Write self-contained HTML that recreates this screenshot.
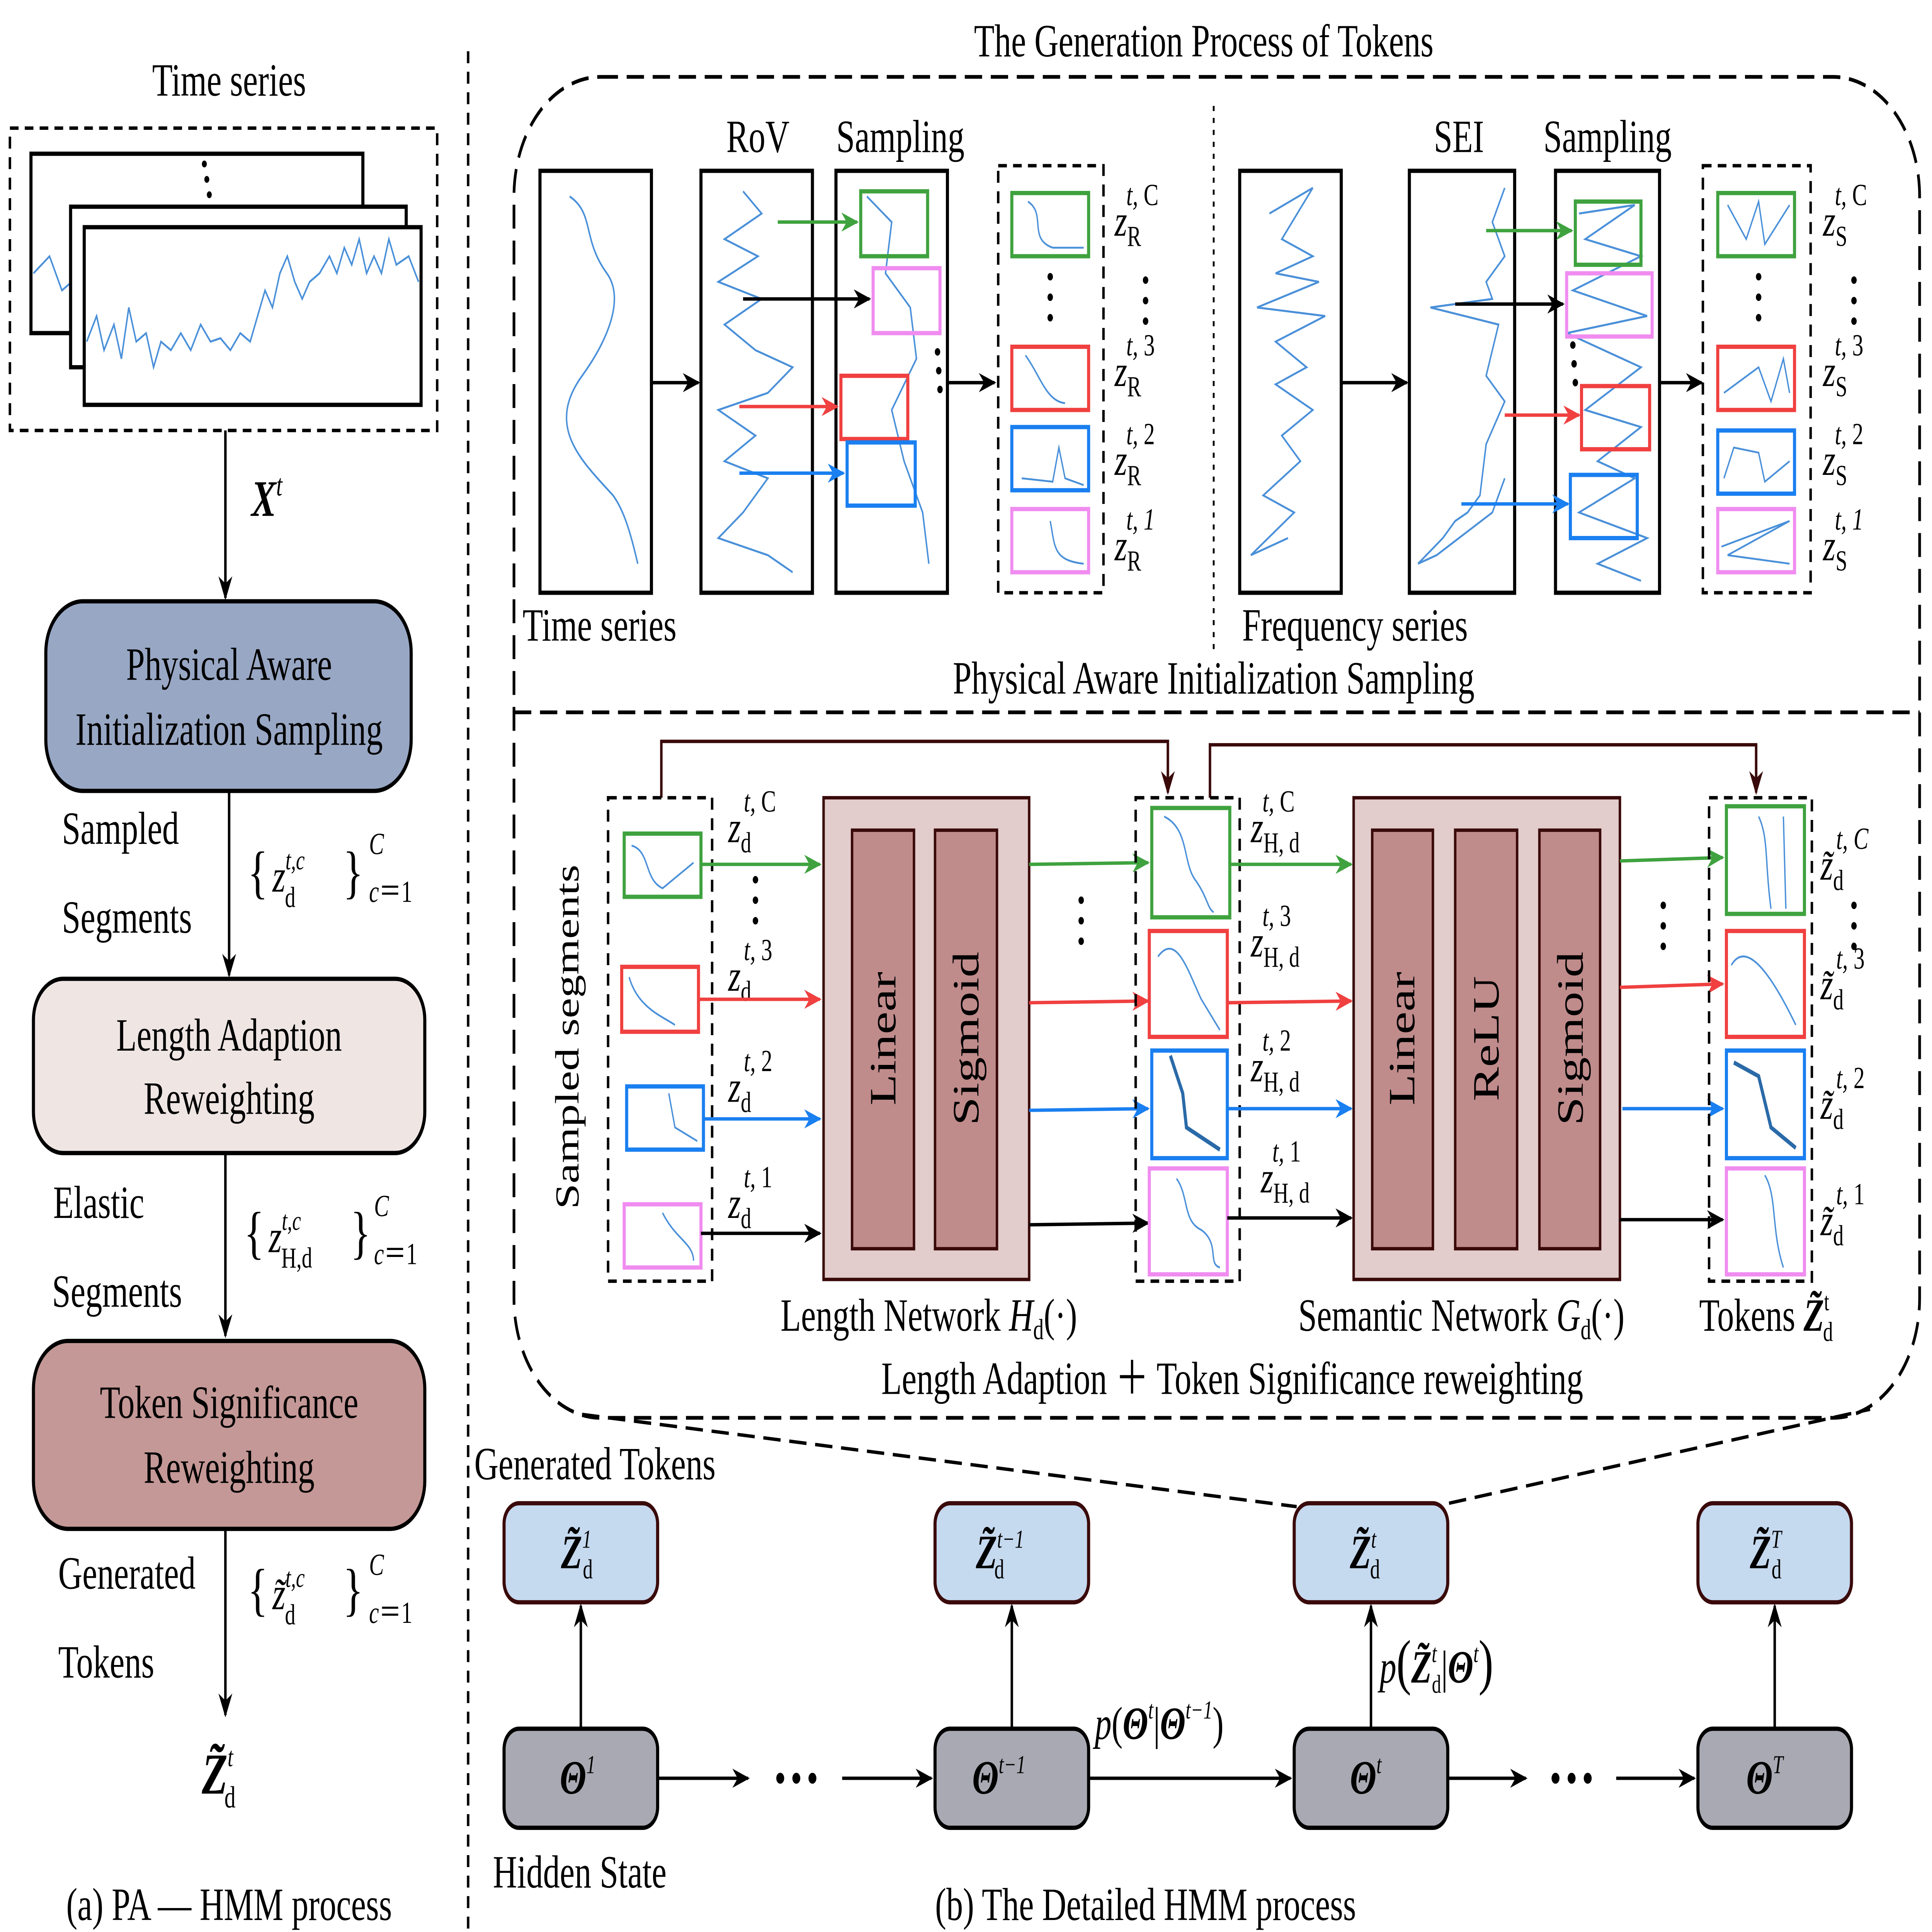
<!DOCTYPE html>
<html><head><meta charset="utf-8"><style>
html,body{margin:0;padding:0;background:#fff;width:100%;height:100%;overflow:hidden}
svg{display:block;width:100vw;height:100vh;overflow:hidden}
text{font-family:"Liberation Serif",serif;fill:#000}
</style></head><body>
<svg viewBox="0 0 1560 1131" preserveAspectRatio="none" xmlns="http://www.w3.org/2000/svg">
<defs>
<marker id="a" viewBox="0 0 10 10" refX="9" refY="5" markerWidth="14" markerHeight="14" orient="auto" markerUnits="userSpaceOnUse"><path d="M0,1 L10,5 L0,9 L3,5 z" fill="#000"/></marker>
<marker id="ag" viewBox="0 0 10 10" refX="9" refY="5" markerWidth="14" markerHeight="14" orient="auto" markerUnits="userSpaceOnUse"><path d="M0,1 L10,5 L0,9 L3,5 z" fill="#3fa23f"/></marker>
<marker id="ar" viewBox="0 0 10 10" refX="9" refY="5" markerWidth="14" markerHeight="14" orient="auto" markerUnits="userSpaceOnUse"><path d="M0,1 L10,5 L0,9 L3,5 z" fill="#f04040"/></marker>
<marker id="ab" viewBox="0 0 10 10" refX="9" refY="5" markerWidth="14" markerHeight="14" orient="auto" markerUnits="userSpaceOnUse"><path d="M0,1 L10,5 L0,9 L3,5 z" fill="#1a7ff0"/></marker>
<marker id="ad" viewBox="0 0 10 10" refX="9" refY="5" markerWidth="14" markerHeight="14" orient="auto" markerUnits="userSpaceOnUse"><path d="M0,1 L10,5 L0,9 L3,5 z" fill="#3a0a0a"/></marker>
</defs>
<g font-size="27">
<text x="185" y="56" text-anchor="middle">Time series</text>
<rect x="8" y="75" width="345" height="177" fill="none" stroke="#000" stroke-width="2" stroke-dasharray="7,5"/>
<rect x="25" y="90" width="268" height="105" fill="#fff" stroke="#000" stroke-width="2.5"/>
<polyline points="27,160 40,150 50,170 58,165" fill="none" stroke="#4a90d9" stroke-width="1.2"/>
<rect x="57" y="121" width="271" height="94" fill="#fff" stroke="#000" stroke-width="2.5"/>
<rect x="68" y="133" width="272" height="104" fill="#fff" stroke="#000" stroke-width="2.5"/>
<polyline points="70,200 78,185 84,205 92,190 98,210 104,180 110,200 118,195 124,215 130,200 138,205 146,195 154,205 162,190 170,200 178,198 186,205 194,195 202,200 208,185 214,170 220,180 226,160 232,150 238,165 244,175 250,165 258,160 266,150 272,160 278,145 284,155 290,140 296,160 302,150 308,160 314,140 320,155 330,150 338,165" fill="none" stroke="#4a90d9" stroke-width="1.2"/>
<circle cx="165" cy="96" r="2" /><circle cx="167" cy="105" r="2"/><circle cx="169" cy="114" r="2"/>
<line x1="182" y1="252" x2="182" y2="350" stroke="#000" stroke-width="2" marker-end="url(#a)"/>
<text x="203" y="302" font-weight="bold" font-style="italic" font-size="30">X<tspan dy="-12" font-size="18" font-weight="normal">t</tspan></text>

<rect x="37" y="352" width="295" height="111" rx="30" fill="#98a7c4" stroke="#000" stroke-width="2.5"/>
<text x="185" y="398" text-anchor="middle">Physical Aware</text>
<text x="185" y="436" text-anchor="middle">Initialization Sampling</text>
<text x="50" y="494">Sampled</text>
<text x="50" y="546">Segments</text>
<line x1="185" y1="463" x2="185" y2="571" stroke="#000" stroke-width="2" marker-end="url(#a)"/>
<text x="200" y="522" font-size="34">{</text><text x="220" y="522" font-style="italic">z<tspan font-size="16" dy="-13">t,c</tspan><tspan font-size="17" font-style="normal" dx="-16" dy="22">d</tspan></text><text x="277" y="522" font-size="34">}</text>
<text x="298" y="500" font-size="18" font-style="italic">C</text><text x="298" y="528" font-size="18"><tspan font-style="italic">c</tspan>＝1</text>

<rect x="27" y="573" width="316" height="102" rx="24" fill="#efe6e4" stroke="#000" stroke-width="2.5"/>
<text x="185" y="615" text-anchor="middle">Length Adaption</text>
<text x="185" y="652" text-anchor="middle">Reweighting</text>
<text x="43" y="713">Elastic</text>
<text x="42" y="765">Segments</text>
<line x1="182" y1="675" x2="182" y2="782" stroke="#000" stroke-width="2" marker-end="url(#a)"/>
<text x="197" y="733" font-size="34">{</text><text x="217" y="733" font-style="italic">z<tspan font-size="16" dy="-13">t,c</tspan><tspan font-size="17" font-style="normal" dx="-16" dy="22">H,d</tspan></text><text x="283" y="733" font-size="34">}</text>
<text x="302" y="712" font-size="18" font-style="italic">C</text><text x="302" y="740" font-size="18"><tspan font-style="italic">c</tspan>＝1</text>

<rect x="27" y="785" width="316" height="110" rx="28" fill="#c49896" stroke="#000" stroke-width="2.5"/>
<text x="185" y="830" text-anchor="middle">Token Significance</text>
<text x="185" y="868" text-anchor="middle">Reweighting</text>
<text x="47" y="930">Generated</text>
<text x="47" y="982">Tokens</text>
<line x1="182" y1="895" x2="182" y2="1004" stroke="#000" stroke-width="2" marker-end="url(#a)"/>
<text x="200" y="942" font-size="34">{</text><text x="220" y="942" font-style="italic">z̃<tspan font-size="16" dy="-13">t,c</tspan><tspan font-size="17" font-style="normal" dx="-16" dy="22">d</tspan></text><text x="277" y="942" font-size="34">}</text>
<text x="298" y="922" font-size="18" font-style="italic">C</text><text x="298" y="950" font-size="18"><tspan font-style="italic">c</tspan>＝1</text>
<text x="163" y="1050" font-size="34" font-weight="bold" font-style="italic">Z̃<tspan font-size="16" font-weight="normal" dy="-16">t</tspan><tspan font-size="18" font-weight="normal" font-style="normal" dx="-7" dy="24">d</tspan></text>
<text x="185" y="1124" text-anchor="middle">(a)  PA — HMM process</text>

<line x1="378" y1="30" x2="378" y2="1131" stroke="#000" stroke-width="2" stroke-dasharray="7,5"/>

<text x="972" y="33" text-anchor="middle">The Generation Process of Tokens</text>
<rect x="415" y="45" width="1135" height="785" rx="70" fill="none" stroke="#000" stroke-width="2.2" stroke-dasharray="14,7"/>
<line x1="415" y1="417" x2="1550" y2="417" stroke="#000" stroke-width="2.2" stroke-dasharray="14,7"/>
<line x1="980" y1="62" x2="980" y2="380" stroke="#000" stroke-width="1.5" stroke-dasharray="3,4"/>

<text x="612" y="89" text-anchor="middle">RoV</text><text x="727" y="89" text-anchor="middle">Sampling</text>
<rect x="436" y="100" width="90" height="247" fill="#fff" stroke="#000" stroke-width="2.5"/>
<path d="M460,115 C480,125 470,140 490,160 C505,175 490,200 470,220 C440,250 470,270 495,290 C505,300 510,315 515,330" fill="none" stroke="#4a90d9" stroke-width="1.2"/>
<line x1="526" y1="224" x2="564" y2="224" stroke="#000" stroke-width="2" marker-end="url(#a)"/>
<rect x="566" y="100" width="90" height="247" fill="#fff" stroke="#000" stroke-width="2.5"/>
<polyline points="600,112 615,125 585,140 612,150 580,165 615,175 585,190 610,205 640,215 620,230 580,240 610,255 585,270 620,280 600,300 580,315 620,325 640,335" fill="none" stroke="#4a90d9" stroke-width="1.2"/>
<rect x="675" y="100" width="90" height="247" fill="#fff" stroke="#000" stroke-width="2.5"/>
<polyline points="700,115 720,130 715,160 735,180 740,210 720,240 730,270 745,300 750,330" fill="none" stroke="#4a90d9" stroke-width="1.2"/>
<rect x="695" y="112" width="54" height="38" fill="none" stroke="#3fa23f" stroke-width="2.5"/>
<rect x="705" y="157" width="54" height="38" fill="none" stroke="#f08cf0" stroke-width="2.5"/>
<rect x="679" y="220" width="54" height="37" fill="none" stroke="#f04040" stroke-width="2.5"/>
<rect x="684" y="259" width="55" height="37" fill="none" stroke="#1a7ff0" stroke-width="2.5"/>
<line x1="628" y1="130" x2="692" y2="130" stroke="#3fa23f" stroke-width="2" marker-end="url(#ag)"/>
<line x1="600" y1="175" x2="702" y2="175" stroke="#000" stroke-width="2" marker-end="url(#a)"/>
<line x1="597" y1="238" x2="676" y2="238" stroke="#f04040" stroke-width="2" marker-end="url(#ar)"/>
<line x1="597" y1="277" x2="681" y2="277" stroke="#1a7ff0" stroke-width="2" marker-end="url(#ab)"/>
<circle cx="757" cy="206" r="2.2"/><circle cx="758" cy="217" r="2.2"/><circle cx="759" cy="228" r="2.2"/>
<line x1="765" y1="224" x2="803" y2="224" stroke="#000" stroke-width="2" marker-end="url(#a)"/>
<rect x="806" y="97" width="85" height="250" fill="none" stroke="#000" stroke-width="2" stroke-dasharray="7,5"/>
<rect x="817" y="113" width="62" height="37" fill="none" stroke="#3fa23f" stroke-width="2.5"/>
<path d="M830,118 C845,125 830,140 850,145 L875,145" fill="none" stroke="#4a90d9" stroke-width="1.1"/>
<rect x="817" y="203" width="62" height="37" fill="none" stroke="#f04040" stroke-width="2.5"/>
<path d="M828,208 C840,220 845,235 860,236" fill="none" stroke="#4a90d9" stroke-width="1.1"/>
<rect x="817" y="250" width="62" height="37" fill="none" stroke="#1a7ff0" stroke-width="2.5"/>
<path d="M825,280 L850,282 L855,262 L860,280 L875,284" fill="none" stroke="#4a90d9" stroke-width="1.1"/>
<rect x="817" y="298" width="62" height="37" fill="none" stroke="#f08cf0" stroke-width="2.5"/>
<path d="M848,305 C852,320 850,328 875,330" fill="none" stroke="#4a90d9" stroke-width="1.1"/>
<circle cx="848" cy="162" r="2.2"/><circle cx="848" cy="174" r="2.2"/><circle cx="848" cy="186" r="2.2"/>
<g font-size="26" font-style="italic">
<text x="900" y="138">z<tspan font-size="17" font-style="normal" dy="6">R</tspan><tspan font-size="18" dx="-12" dy="-24">t, </tspan><tspan font-size="18" font-style="normal">C</tspan></text>
<text x="900" y="226">z<tspan font-size="17" font-style="normal" dy="6">R</tspan><tspan font-size="18" dx="-12" dy="-24">t, </tspan><tspan font-size="18" font-style="normal">3</tspan></text>
<text x="900" y="278">z<tspan font-size="17" font-style="normal" dy="6">R</tspan><tspan font-size="18" dx="-12" dy="-24">t, </tspan><tspan font-size="18" font-style="normal">2</tspan></text>
<text x="900" y="328">z<tspan font-size="17" font-style="normal" dy="6">R</tspan><tspan font-size="18" dx="-12" dy="-24">t, 1</tspan></text>
</g>
<circle cx="925" cy="164" r="2.2"/><circle cx="925" cy="176" r="2.2"/><circle cx="925" cy="188" r="2.2"/>
<text x="422" y="375">Time series</text>

<text x="1178" y="89" text-anchor="middle">SEI</text><text x="1298" y="89" text-anchor="middle">Sampling</text>
<rect x="1001" y="100" width="82" height="247" fill="#fff" stroke="#000" stroke-width="2.5"/>
<polyline points="1025,125 1060,110 1035,140 1060,150 1030,160 1065,165 1015,180 1070,185 1030,200 1055,215 1030,225 1060,240 1035,255 1050,270 1020,290 1045,300 1010,325 1040,315" fill="none" stroke="#4a90d9" stroke-width="1.2"/>
<line x1="1083" y1="224" x2="1136" y2="224" stroke="#000" stroke-width="2" marker-end="url(#a)"/>
<rect x="1138" y="100" width="85" height="247" fill="#fff" stroke="#000" stroke-width="2.5"/>
<polyline points="1215,110 1205,130 1215,150 1200,165 1205,175 1155,180 1210,190 1200,220 1215,235 1200,260 1195,290 1185,300 1175,305 1165,315 1145,330 1160,325 1205,300 1215,280" fill="none" stroke="#4a90d9" stroke-width="1.2"/>
<rect x="1256" y="100" width="84" height="247" fill="#fff" stroke="#000" stroke-width="2.5"/>
<polyline points="1275,125 1320,120 1280,140 1325,150 1270,170 1330,185 1265,195 1325,215 1280,240 1325,250 1290,270 1320,280 1275,300 1330,315 1290,330 1325,340" fill="none" stroke="#4a90d9" stroke-width="1.2"/>
<rect x="1272" y="118" width="53" height="37" fill="none" stroke="#3fa23f" stroke-width="2.5"/>
<rect x="1265" y="160" width="69" height="37" fill="none" stroke="#f08cf0" stroke-width="2.5"/>
<rect x="1277" y="226" width="55" height="37" fill="none" stroke="#f04040" stroke-width="2.5"/>
<rect x="1268" y="278" width="54" height="37" fill="none" stroke="#1a7ff0" stroke-width="2.5"/>
<line x1="1200" y1="135" x2="1269" y2="135" stroke="#3fa23f" stroke-width="2" marker-end="url(#ag)"/>
<line x1="1175" y1="178" x2="1262" y2="178" stroke="#000" stroke-width="2" marker-end="url(#a)"/>
<line x1="1215" y1="243" x2="1275" y2="243" stroke="#f04040" stroke-width="2" marker-end="url(#ar)"/>
<line x1="1180" y1="295" x2="1266" y2="295" stroke="#1a7ff0" stroke-width="2" marker-end="url(#ab)"/>
<circle cx="1270" cy="202" r="2.2"/><circle cx="1271" cy="213" r="2.2"/><circle cx="1272" cy="224" r="2.2"/>
<line x1="1340" y1="224" x2="1374" y2="224" stroke="#000" stroke-width="2" marker-end="url(#a)"/>
<rect x="1375" y="97" width="87" height="250" fill="none" stroke="#000" stroke-width="2" stroke-dasharray="7,5"/>
<rect x="1387" y="113" width="62" height="37" fill="none" stroke="#3fa23f" stroke-width="2.5"/>
<polyline points="1395,120 1410,140 1420,118 1425,143 1445,120" fill="none" stroke="#4a90d9" stroke-width="1.1"/>
<rect x="1387" y="203" width="62" height="37" fill="none" stroke="#f04040" stroke-width="2.5"/>
<polyline points="1392,230 1420,215 1430,235 1440,210 1445,230" fill="none" stroke="#4a90d9" stroke-width="1.1"/>
<rect x="1387" y="252" width="62" height="37" fill="none" stroke="#1a7ff0" stroke-width="2.5"/>
<polyline points="1392,280 1400,262 1420,265 1425,282 1445,270" fill="none" stroke="#4a90d9" stroke-width="1.1"/>
<rect x="1387" y="298" width="62" height="37" fill="none" stroke="#f08cf0" stroke-width="2.5"/>
<polyline points="1390,320 1445,305 1395,325 1445,330" fill="none" stroke="#4a90d9" stroke-width="1.1"/>
<circle cx="1420" cy="162" r="2.2"/><circle cx="1420" cy="174" r="2.2"/><circle cx="1420" cy="186" r="2.2"/>
<circle cx="1497" cy="164" r="2.2"/><circle cx="1497" cy="176" r="2.2"/><circle cx="1497" cy="188" r="2.2"/>
<g font-size="26" font-style="italic">
<text x="1472" y="138">z<tspan font-size="17" font-style="normal" dy="6">S</tspan><tspan font-size="18" dx="-10" dy="-24">t, </tspan><tspan font-size="18" font-style="normal">C</tspan></text>
<text x="1472" y="226">z<tspan font-size="17" font-style="normal" dy="6">S</tspan><tspan font-size="18" dx="-10" dy="-24">t, </tspan><tspan font-size="18" font-style="normal">3</tspan></text>
<text x="1472" y="278">z<tspan font-size="17" font-style="normal" dy="6">S</tspan><tspan font-size="18" dx="-10" dy="-24">t, </tspan><tspan font-size="18" font-style="normal">2</tspan></text>
<text x="1472" y="328">z<tspan font-size="17" font-style="normal" dy="6">S</tspan><tspan font-size="18" dx="-10" dy="-24">t, 1</tspan></text>
</g>
<text x="1003" y="375">Frequency series</text>
<text x="980" y="406" text-anchor="middle">Physical Aware Initialization Sampling</text>

<text transform="translate(467,607) rotate(-90)" text-anchor="middle">Sampled segments</text>
<polyline points="534,467 534,434 943,434 943,464" fill="none" stroke="#3a0a0a" stroke-width="2" marker-end="url(#ad)"/>
<polyline points="977,467 977,436 1418,436 1418,464" fill="none" stroke="#3a0a0a" stroke-width="2" marker-end="url(#ad)"/>
<rect x="491" y="467" width="84" height="283" fill="none" stroke="#000" stroke-width="2" stroke-dasharray="7,5"/>
<rect x="504" y="488" width="62" height="37" fill="none" stroke="#3fa23f" stroke-width="2.5"/>
<path d="M510,495 C525,498 520,515 535,520 L560,505" fill="none" stroke="#4a90d9" stroke-width="1.1"/>
<rect x="502" y="566" width="62" height="38" fill="none" stroke="#f04040" stroke-width="2.5"/>
<path d="M508,572 C515,590 535,595 545,600" fill="none" stroke="#4a90d9" stroke-width="1.1"/>
<rect x="506" y="636" width="62" height="37" fill="none" stroke="#1a7ff0" stroke-width="2.5"/>
<path d="M540,640 L545,660 L563,668" fill="none" stroke="#4a90d9" stroke-width="1.1"/>
<rect x="504" y="705" width="62" height="37" fill="none" stroke="#f08cf0" stroke-width="2.5"/>
<path d="M535,710 C545,725 560,728 560,738" fill="none" stroke="#4a90d9" stroke-width="1.1"/>
<g font-size="26" font-style="italic">
<text x="588" y="493">z<tspan font-size="17" font-style="normal" dy="6">d</tspan><tspan font-size="18" dx="-6" dy="-24">t, </tspan><tspan font-size="18" font-style="normal">C</tspan></text>
<text x="588" y="580">z<tspan font-size="17" font-style="normal" dy="6">d</tspan><tspan font-size="18" dx="-6" dy="-24">t, </tspan><tspan font-size="18" font-style="normal">3</tspan></text>
<text x="588" y="645">z<tspan font-size="17" font-style="normal" dy="6">d</tspan><tspan font-size="18" dx="-6" dy="-24">t, </tspan><tspan font-size="18" font-style="normal">2</tspan></text>
<text x="588" y="713">z<tspan font-size="17" font-style="normal" dy="6">d</tspan><tspan font-size="18" dx="-6" dy="-24">t, </tspan><tspan font-size="18" font-style="normal">1</tspan></text>
</g>
<circle cx="610" cy="515" r="2.2"/><circle cx="610" cy="527" r="2.2"/><circle cx="610" cy="539" r="2.2"/>
<line x1="566" y1="506" x2="662" y2="506" stroke="#3fa23f" stroke-width="2" marker-end="url(#ag)"/>
<line x1="564" y1="585" x2="662" y2="585" stroke="#f04040" stroke-width="2" marker-end="url(#ar)"/>
<line x1="568" y1="655" x2="662" y2="655" stroke="#1a7ff0" stroke-width="2" marker-end="url(#ab)"/>
<line x1="566" y1="722" x2="662" y2="722" stroke="#000" stroke-width="2" marker-end="url(#a)"/>

<rect x="665" y="467" width="166" height="282" fill="#e2cccc" stroke="#3a0a0a" stroke-width="2"/>
<rect x="688" y="486" width="50" height="245" fill="#c08b8b" stroke="#3a0a0a" stroke-width="2"/>
<rect x="755" y="486" width="50" height="245" fill="#c08b8b" stroke="#3a0a0a" stroke-width="2"/>
<text transform="translate(723,608) rotate(-90)" text-anchor="middle" font-size="30">Linear</text>
<text transform="translate(790,608) rotate(-90)" text-anchor="middle" font-size="30">Sigmoid</text>
<line x1="831" y1="506" x2="927" y2="505" stroke="#3fa23f" stroke-width="2" marker-end="url(#ag)"/>
<line x1="831" y1="587" x2="927" y2="586" stroke="#f04040" stroke-width="2" marker-end="url(#ar)"/>
<line x1="831" y1="650" x2="927" y2="649" stroke="#1a7ff0" stroke-width="2" marker-end="url(#ab)"/>
<line x1="831" y1="717" x2="927" y2="716" stroke="#000" stroke-width="2" marker-end="url(#a)"/>
<circle cx="873" cy="527" r="2.2"/><circle cx="873" cy="539" r="2.2"/><circle cx="873" cy="551" r="2.2"/>

<rect x="917" y="467" width="84" height="283" fill="none" stroke="#000" stroke-width="2" stroke-dasharray="7,5"/>
<rect x="930" y="473" width="63" height="64" fill="none" stroke="#3fa23f" stroke-width="2.5"/>
<path d="M940,478 C960,485 955,505 965,515 C975,525 975,532 980,534" fill="none" stroke="#4a90d9" stroke-width="1.1"/>
<rect x="928" y="545" width="63" height="62" fill="none" stroke="#f04040" stroke-width="2.5"/>
<path d="M935,560 C950,545 960,570 970,585 L985,603" fill="none" stroke="#4a90d9" stroke-width="1.1"/>
<rect x="930" y="615" width="61" height="63" fill="none" stroke="#1a7ff0" stroke-width="2.5"/>
<path d="M945,618 L955,640 L958,660 L985,673" fill="none" stroke="#2a6aa8" stroke-width="2.5"/>
<rect x="928" y="684" width="63" height="62" fill="none" stroke="#f08cf0" stroke-width="2.5"/>
<path d="M950,690 C960,700 955,715 970,720 C985,728 975,740 985,742" fill="none" stroke="#4a90d9" stroke-width="1.1"/>
<g font-size="26" font-style="italic">
<text x="1010" y="493">z<tspan font-size="17" font-style="normal" dy="6">H, d</tspan><tspan font-size="18" dx="-30" dy="-24">t, </tspan><tspan font-size="18" font-style="normal">C</tspan></text>
<text x="1010" y="560">z<tspan font-size="17" font-style="normal" dy="6">H, d</tspan><tspan font-size="18" dx="-30" dy="-24">t, </tspan><tspan font-size="18" font-style="normal">3</tspan></text>
<text x="1010" y="633">z<tspan font-size="17" font-style="normal" dy="6">H, d</tspan><tspan font-size="18" dx="-30" dy="-24">t, </tspan><tspan font-size="18" font-style="normal">2</tspan></text>
<text x="1018" y="698">z<tspan font-size="17" font-style="normal" dy="6">H, d</tspan><tspan font-size="18" dx="-30" dy="-24">t, </tspan><tspan font-size="18" font-style="normal">1</tspan></text>
</g>
<line x1="993" y1="506" x2="1091" y2="506" stroke="#3fa23f" stroke-width="2" marker-end="url(#ag)"/>
<line x1="991" y1="587" x2="1091" y2="586" stroke="#f04040" stroke-width="2" marker-end="url(#ar)"/>
<line x1="991" y1="649" x2="1091" y2="649" stroke="#1a7ff0" stroke-width="2" marker-end="url(#ab)"/>
<line x1="991" y1="713" x2="1091" y2="713" stroke="#000" stroke-width="2" marker-end="url(#a)"/>

<rect x="1093" y="467" width="215" height="282" fill="#e2cccc" stroke="#3a0a0a" stroke-width="2"/>
<rect x="1108" y="486" width="49" height="245" fill="#c08b8b" stroke="#3a0a0a" stroke-width="2"/>
<rect x="1175" y="486" width="50" height="245" fill="#c08b8b" stroke="#3a0a0a" stroke-width="2"/>
<rect x="1243" y="486" width="49" height="245" fill="#c08b8b" stroke="#3a0a0a" stroke-width="2"/>
<text transform="translate(1142,608) rotate(-90)" text-anchor="middle" font-size="30">Linear</text>
<text transform="translate(1210,608) rotate(-90)" text-anchor="middle" font-size="30">ReLU</text>
<text transform="translate(1278,608) rotate(-90)" text-anchor="middle" font-size="30">Sigmoid</text>
<line x1="1308" y1="504" x2="1391" y2="502" stroke="#3fa23f" stroke-width="2" marker-end="url(#ag)"/>
<line x1="1308" y1="578" x2="1391" y2="576" stroke="#f04040" stroke-width="2" marker-end="url(#ar)"/>
<line x1="1310" y1="649" x2="1391" y2="649" stroke="#1a7ff0" stroke-width="2" marker-end="url(#ab)"/>
<line x1="1308" y1="714" x2="1391" y2="714" stroke="#000" stroke-width="2" marker-end="url(#a)"/>
<circle cx="1343" cy="530" r="2.2"/><circle cx="1343" cy="542" r="2.2"/><circle cx="1343" cy="554" r="2.2"/>

<rect x="1380" y="467" width="83" height="283" fill="none" stroke="#000" stroke-width="2" stroke-dasharray="7,5"/>
<rect x="1394" y="472" width="63" height="63" fill="none" stroke="#3fa23f" stroke-width="2.5"/>
<path d="M1420,478 C1428,490 1425,505 1430,532 M1440,478 L1442,532" fill="none" stroke="#4a90d9" stroke-width="1.1"/>
<rect x="1394" y="545" width="63" height="62" fill="none" stroke="#f04040" stroke-width="2.5"/>
<path d="M1398,565 C1410,550 1430,570 1450,600" fill="none" stroke="#4a90d9" stroke-width="1.1"/>
<rect x="1394" y="615" width="63" height="63" fill="none" stroke="#1a7ff0" stroke-width="2.5"/>
<path d="M1400,622 L1420,630 L1430,660 L1450,672" fill="none" stroke="#2a6aa8" stroke-width="2.5"/>
<rect x="1394" y="684" width="63" height="62" fill="none" stroke="#f08cf0" stroke-width="2.5"/>
<path d="M1425,688 C1435,700 1430,720 1440,742" fill="none" stroke="#4a90d9" stroke-width="1.1"/>
<g font-size="26" font-style="italic">
<text x="1470" y="515">z̃<tspan font-size="17" font-style="normal" dy="6">d</tspan><tspan font-size="18" dx="-6" dy="-24">t, C</tspan></text>
<text x="1470" y="585">z̃<tspan font-size="17" font-style="normal" dy="6">d</tspan><tspan font-size="18" dx="-6" dy="-24">t, </tspan><tspan font-size="18" font-style="normal">3</tspan></text>
<text x="1470" y="655">z̃<tspan font-size="17" font-style="normal" dy="6">d</tspan><tspan font-size="18" dx="-6" dy="-24">t, </tspan><tspan font-size="18" font-style="normal">2</tspan></text>
<text x="1470" y="723">z̃<tspan font-size="17" font-style="normal" dy="6">d</tspan><tspan font-size="18" dx="-6" dy="-24">t, </tspan><tspan font-size="18" font-style="normal">1</tspan></text>
</g>
<circle cx="1497" cy="530" r="2.2"/><circle cx="1497" cy="542" r="2.2"/><circle cx="1497" cy="554" r="2.2"/>
<text x="750" y="779" text-anchor="middle">Length Network  <tspan font-style="italic">H</tspan><tspan font-size="17" dy="5">d</tspan><tspan dy="-5">(·)</tspan></text>
<text x="1180" y="779" text-anchor="middle">Semantic Network  <tspan font-style="italic">G</tspan><tspan font-size="17" dy="5">d</tspan><tspan dy="-5">(·)</tspan></text>
<text x="1372" y="779">Tokens  <tspan font-style="italic" font-weight="bold">Z̃</tspan><tspan font-size="15" dy="-12">t</tspan><tspan font-size="16" dx="-5" dy="18">d</tspan></text>
<text x="995" y="816" text-anchor="middle">Length Adaption ＋ Token Significance reweighting</text>

<line x1="470" y1="828" x2="1047" y2="882" stroke="#000" stroke-width="2" stroke-dasharray="14,7"/>
<line x1="1170" y1="880" x2="1510" y2="825" stroke="#000" stroke-width="2" stroke-dasharray="14,7"/>
<text x="383" y="866">Generated Tokens</text>
<g stroke="#3a0a0a" stroke-width="2.5">
<rect x="407" y="880" width="124" height="58" rx="12" fill="#c5d9ef"/>
<rect x="755" y="880" width="124" height="58" rx="12" fill="#c5d9ef"/>
<rect x="1045" y="880" width="124" height="58" rx="12" fill="#c5d9ef"/>
<rect x="1371" y="880" width="124" height="58" rx="12" fill="#c5d9ef"/>
</g>
<g stroke="#000" stroke-width="2.5">
<rect x="407" y="1012" width="124" height="58" rx="12" fill="#a9a9b3"/>
<rect x="755" y="1012" width="124" height="58" rx="12" fill="#a9a9b3"/>
<rect x="1045" y="1012" width="124" height="58" rx="12" fill="#a9a9b3"/>
<rect x="1371" y="1012" width="124" height="58" rx="12" fill="#a9a9b3"/>
</g>
<g font-size="28" font-weight="bold" font-style="italic">
<text x="453" y="918">Z̃<tspan font-size="15" font-weight="normal" dy="-12">1</tspan><tspan font-size="16" font-weight="normal" font-style="normal" dx="-7" dy="18">d</tspan></text>
<text x="788" y="918">Z̃<tspan font-size="15" font-weight="normal" dy="-12">t−1</tspan><tspan font-size="16" font-weight="normal" font-style="normal" dx="-24" dy="18">d</tspan></text>
<text x="1090" y="918">Z̃<tspan font-size="15" font-weight="normal" dy="-12">t</tspan><tspan font-size="16" font-weight="normal" font-style="normal" dx="-5" dy="18">d</tspan></text>
<text x="1413" y="918">Z̃<tspan font-size="15" font-weight="normal" dy="-12">T</tspan><tspan font-size="16" font-weight="normal" font-style="normal" dx="-8" dy="18">d</tspan></text>
<text x="452" y="1050">Θ<tspan font-size="15" font-weight="normal" dy="-12">1</tspan></text>
<text x="785" y="1050">Θ<tspan font-size="15" font-weight="normal" dy="-12">t−1</tspan></text>
<text x="1090" y="1050">Θ<tspan font-size="15" font-weight="normal" dy="-12">t</tspan></text>
<text x="1410" y="1050">Θ<tspan font-size="15" font-weight="normal" dy="-12">T</tspan></text>
</g>
<g stroke="#000" stroke-width="2">
<line x1="469" y1="1012" x2="469" y2="940" marker-end="url(#a)"/>
<line x1="817" y1="1012" x2="817" y2="940" marker-end="url(#a)"/>
<line x1="1107" y1="1012" x2="1107" y2="940" marker-end="url(#a)"/>
<line x1="1433" y1="1012" x2="1433" y2="940" marker-end="url(#a)"/>
<line x1="531" y1="1041" x2="604" y2="1041" marker-end="url(#a)"/>
<line x1="680" y1="1041" x2="752" y2="1041" marker-end="url(#a)"/>
<line x1="879" y1="1041" x2="1042" y2="1041" marker-end="url(#a)"/>
<line x1="1169" y1="1041" x2="1232" y2="1041" marker-end="url(#a)"/>
<line x1="1305" y1="1041" x2="1368" y2="1041" marker-end="url(#a)"/>
</g>
<circle cx="630" cy="1041" r="3.2"/><circle cx="643" cy="1041" r="3.2"/><circle cx="656" cy="1041" r="3.2"/>
<circle cx="1256" cy="1041" r="3.2"/><circle cx="1269" cy="1041" r="3.2"/><circle cx="1282" cy="1041" r="3.2"/>
<text x="884" y="1018"><tspan font-style="italic">p</tspan>(<tspan font-weight="bold" font-style="italic">Θ</tspan><tspan font-size="15" font-style="italic" dy="-12">t</tspan><tspan dy="12">|</tspan><tspan font-weight="bold" font-style="italic">Θ</tspan><tspan font-size="15" font-style="italic" dy="-12">t−1</tspan><tspan dy="12">)</tspan></text>
<text x="1114" y="985"><tspan font-style="italic">p</tspan><tspan font-size="36">(</tspan><tspan font-weight="bold" font-style="italic">Z̃</tspan><tspan font-size="15" font-style="italic" dy="-12">t</tspan><tspan font-size="15" dx="-4" dy="18">d</tspan><tspan dy="-6">|</tspan><tspan font-weight="bold" font-style="italic">Θ</tspan><tspan font-size="15" font-style="italic" dy="-12">t</tspan><tspan font-size="36" dy="12">)</tspan></text>
<text x="398" y="1105">Hidden State</text>
<text x="925" y="1124" text-anchor="middle">(b)  The Detailed HMM process</text>
</g>
</svg>
</body></html>
